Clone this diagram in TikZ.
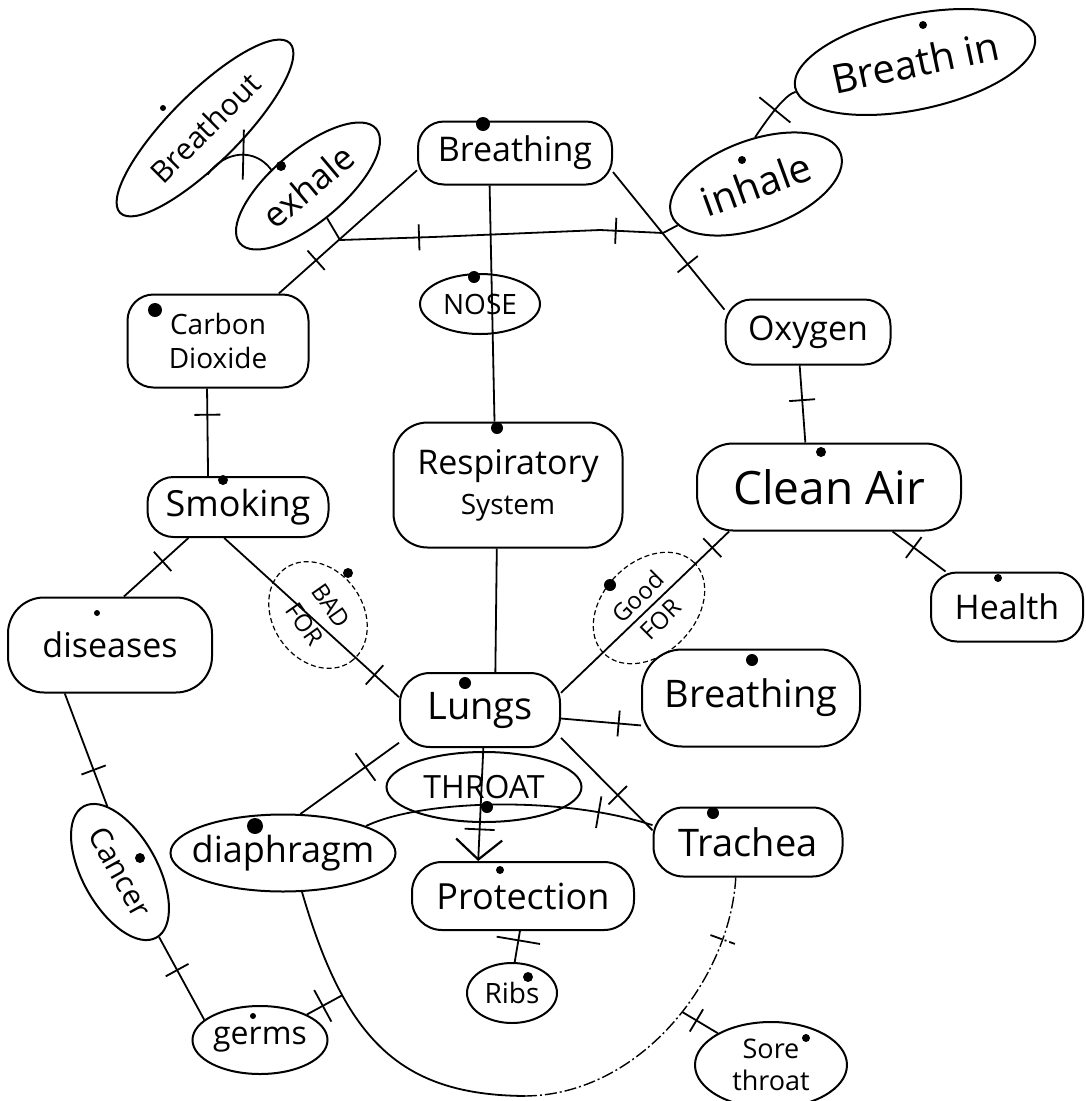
\documentclass[tikz,border=0pt]{standalone}
\usepackage{fontspec}
\setmainfont{Open Sans}
\usetikzlibrary{shapes.geometric,arrows.meta}
\newcommand{\fsz}[2]{\fontsize{#1}{#2}\selectfont}
\begin{document}
\begin{tikzpicture}[x=1pt,y=-1pt,
  every node/.style={inner sep=0pt,line width=2pt},
  box/.style={draw,rectangle,rounded corners=26pt,align=center},
  oval/.style={draw,ellipse,align=center,inner xsep=-12pt,inner ysep=-4pt},
  dsh/.style={line width=1.2pt,dash pattern=on 5pt off 3pt},
  con/.style={line width=1.8pt},
  tk/.style={draw,rectangle,inner sep=0pt,minimum width=0pt,minimum height=26pt,sloped,line width=1.8pt},
  dot/.style={fill=black}]
\fill[white] (0,0) rectangle (1085,1101);
\useasboundingbox (0,0) rectangle (1085,1101);

% nodes
\node[oval,rotate=45,minimum width=240pt,minimum height=70pt,font=\fsz{30}{34}] (bout) at (205,128) {Breathout};
\node[oval,rotate=40,minimum width=178pt,minimum height=72pt,font=\fsz{35}{40}] (exh) at (308,186) {exhale};
\node[box,minimum width=194pt,minimum height=63pt,font=\fsz{34}{38}] (b1) at (515,153) {Breathing};
\node[oval,rotate=12,minimum width=245pt,minimum height=95pt,font=\fsz{40}{44}] (bin) at (915,62) {Breath in};
\node[oval,rotate=20,minimum width=180pt,minimum height=88pt,font=\fsz{40}{44}] (inh) at (756,184) {inhale};
\node[box,minimum width=181pt,minimum height=93pt,font=\fsz{28}{34}] (co2) at (218,341) {Carbon\\Dioxide};
\node[oval,minimum width=120pt,minimum height=60pt,font=\fsz{28}{32}] (nose) at (480,304) {NOSE};
\node[box,minimum width=165pt,minimum height=65pt,font=\fsz{34}{38}] (oxy) at (808,332) {Oxygen};
\node[box,minimum width=229pt,minimum height=125pt,rounded corners=34pt,font=\fsz{28}{40}] (resp) at (508,485) {\fsz{34}{42}Respiratory\\\fsz{28}{34}System};
\node[box,minimum width=264pt,minimum height=87pt,rounded corners=36pt,font=\fsz{46}{50}] (clean) at (829,487) {Clean Air};
\node[box,minimum width=181pt,minimum height=60pt,font=\fsz{36}{40}] (smk) at (238,507) {Smoking};
\node[box,minimum width=204pt,minimum height=95pt,rounded corners=36pt,font=\fsz{34}{38}] (dis) at (110,645) {diseases};
\node[oval,dsh,rotate=-55,minimum width=114pt,minimum height=90pt,font=\fsz{24}{32}] (bad) at (318,615) {BAD\\FOR};
\node[oval,dsh,rotate=45,minimum width=128pt,minimum height=92pt,font=\fsz{24}{32}] (good) at (649,608) {Good\\FOR};
\node[box,minimum width=152pt,minimum height=69pt,font=\fsz{34}{38}] (health) at (1007,607) {Health};
\node[box,minimum width=160pt,minimum height=74pt,rounded corners=30pt,font=\fsz{38}{42}] (lungs) at (480,710) {Lungs};
\node[box,minimum width=218pt,minimum height=97pt,rounded corners=40pt,font=\fsz{38}{42}] (b2) at (751,698) {Breathing};
\node[oval,minimum width=195pt,minimum height=70pt,font=\fsz{32}{36}] (throat) at (484,787) {THROAT};
\node[oval,minimum width=225pt,minimum height=77pt,inner xsep=-20pt,font=\fsz{36}{40}] (dia) at (283,853) {diaphragm};
\node[box,minimum width=189pt,minimum height=69pt,rounded corners=30pt,font=\fsz{38}{42}] (tra) at (748,842) {Trachea};
\node[box,minimum width=222pt,minimum height=68pt,rounded corners=30pt,font=\fsz{36}{40}] (prot) at (523,896) {Protection};
\node[oval,minimum width=90pt,minimum height=60pt,font=\fsz{28}{32}] (ribs) at (512,993) {Ribs};
\node[oval,rotate=-61,minimum width=150pt,minimum height=75pt,font=\fsz{30}{34}] (cancer) at (120,872) {Cancer};
\node[oval,minimum width=135pt,minimum height=68pt,font=\fsz{32}{36}] (germs) at (260,1040) {germs};
\node[oval,minimum width=152pt,minimum height=86pt,font=\fsz{27}{32}] (sore) at (771,1065) {Sore\\throat};

% dots
\fill[dot] (483,124) circle (7pt);
\fill[dot] (163,108) circle (3pt);
\fill[dot] (281,166) circle (5pt);
\fill[dot] (923,25) circle (4pt);
\fill[dot] (742,160) circle (4pt);
\fill[dot] (155,310) circle (7pt);
\fill[dot] (474,277) circle (6pt);
\fill[dot] (223,480) circle (5pt);
\fill[dot] (97,613) circle (3pt);
\fill[dot] (348,573) circle (5pt);
\fill[dot] (497,428) circle (6pt);
\fill[dot] (821,452) circle (5pt);
\fill[dot] (610,585) circle (6pt);
\fill[dot] (998,578) circle (4pt);
\fill[dot] (465,683) circle (6pt);
\fill[dot] (752,660) circle (6pt);
\fill[dot] (487,807) circle (6pt);
\fill[dot] (255,826) circle (8pt);
\fill[dot] (713,813) circle (6pt);
\fill[dot] (500,870) circle (4pt);
\fill[dot] (528,977) circle (5pt);
\fill[dot] (140,858) circle (5pt);
\fill[dot] (253,1016) circle (3pt);
\fill[dot] (806,1038) circle (4pt);

% connectors
\draw[con] (b1.190) -- (co2.38) node[tk,pos=.73]{};
\draw[con] (b1.-128) -- (resp.102);
\draw[con] (b1.-11) -- (oxy.165) node[tk,pos=.67]{};
\draw[con] (exh) -- (340,240) -- (433,237) node[tk,pos=.85]{} -- (600,230) -- (663,233) node[tk,pos=.25]{} -- (inh);
\draw[con] (bout.-132) .. controls (225,150) and (255,148) .. (exh.116) node[tk,pos=.55,minimum height=50pt]{};
\draw[con] (inh.71) .. controls (770,115) and (785,95) .. (bin.182) node[tk,pos=.45,minimum height=40pt]{};
\draw[con] (oxy.-104) -- (clean.118) node[tk,pos=.45]{};
\draw[con] (co2.-103) -- (smk.134) node[tk,pos=.3]{};
\draw[con] (resp.-100) -- (lungs.68);
\draw[con] (clean.204) -- (lungs.12) node[tk,pos=.1]{};
\draw[con] (clean.-35) -- (health.150) node[tk,pos=.4]{};
\draw[con] (smk.212) -- (dis.74) node[tk,pos=.4]{};
\draw[con] (smk.-114) -- (lungs.171) node[tk,pos=.86]{};
\draw[con] (dis.-133) -- (cancer.162) node[tk,pos=.68]{};
\draw[con] (cancer.2) -- (germs.160) node[tk,pos=.4]{};
\draw[con] (lungs.-6) -- (b2.194) node[tk,pos=.72]{};
\draw[con] (lungs.202) -- (dia.66) node[tk,pos=.34,minimum height=34pt]{};
\draw[con] (lungs.-19) -- (tra.173) node[tk,pos=.62]{};
\draw[con,-{Straight Barb[length=20pt,width=46pt,line width=2.2pt]}] (lungs.-85) -- (prot.142) node[tk,pos=.72,minimum height=30pt]{};
\draw[con] (dia.18) .. controls (420,800) and (560,795) .. (tra.170) node[tk,pos=.82,minimum height=32pt]{};
\draw[con] (prot.-95) -- (ribs.85) node[tk,pos=.3,minimum height=44pt]{};
\coordinate (bot) at (525,1096);
\draw[con] (dia.-64) .. controls (345,1040) and (400,1095) .. (bot) coordinate[pos=.28] (gj);
\draw[con,line width=1.4pt,dash pattern=on 12pt off 3pt on 2pt off 3pt] (bot) .. controls (640,1095) and (730,980) .. (tra.-109) coordinate[pos=.55] (sj) node[tk,pos=.8]{};
\draw[con] (germs) -- (gj) node[tk,pos=.45,minimum height=36pt]{};
\draw[con] (sj) -- (sore) node[tk,pos=.4]{};
\end{tikzpicture}
\end{document}
